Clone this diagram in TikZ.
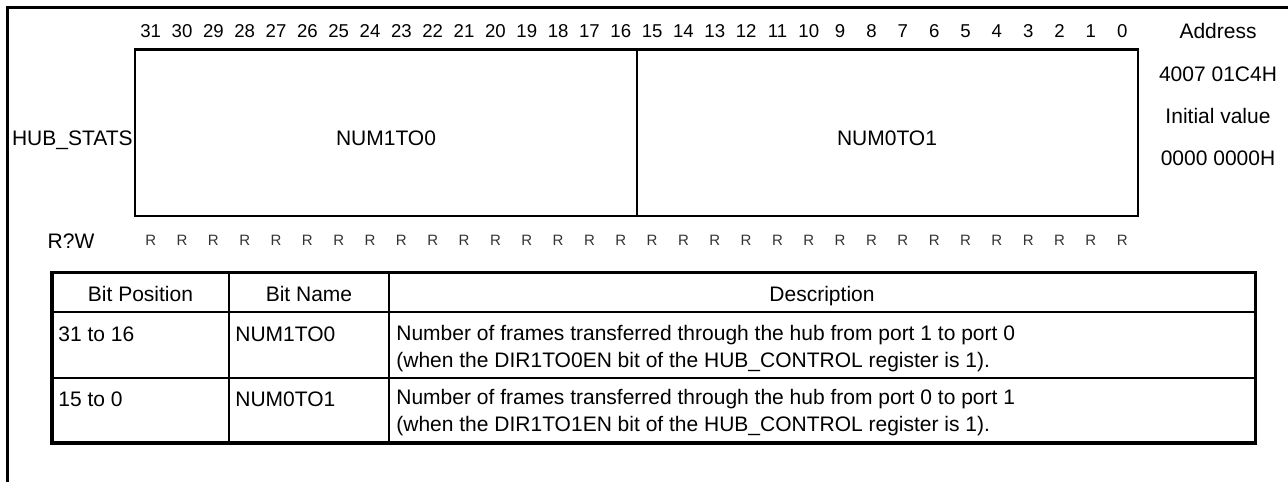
\documentclass[tikz,border=0pt]{standalone}
\usepackage{fontspec}
\setmainfont{Liberation Sans}
\begin{document}
\begin{tikzpicture}[x=0.5pt,y=-0.5pt,line cap=rect,
  every node/.style={inner sep=0pt,font=\fontsize{10.5}{13.5}\selectfont},
  bitnum/.style={anchor=base,font=\fontsize{9.3}{11}\selectfont},
  access/.style={anchor=base,font=\fontsize{7.5}{9}\selectfont,text=black!80},
  cell/.style={anchor=base west,align=left}]
  \useasboundingbox (0,0) rectangle (1288,481);
  \def\bw{31.34}
  \def\xl{135}
  % outer frame
  \draw[line width=1.1pt] (7.5,481) -- (7.5,7.5) -- (1288,7.5);
  % register layout
  \draw[line width=1.4pt] (\xl,49.5) rectangle (1138,216);
  \draw[line width=1pt] (637,49.5) -- (637,216);
  \foreach \i in {0,...,31} {
    \node[bitnum] (b\i) at ({\xl+(31.5-\i)*\bw},38) {\i};
    \node[access] (r\i) at ({\xl+(31.5-\i)*\bw},245) {R};
  }
  \node[anchor=base east] (reg) at (133,145) {HUB\_STATS};
  \node[anchor=base] (fhi) at (386,145) {NUM1TO0};
  \node[anchor=base] (flo) at (887,145) {NUM0TO1};
  \node[anchor=base] (rw) at (71,248) {R?W};
  \node[anchor=base] (addr) at (1218,39) {Address};
  \node[anchor=base] (addrv) at (1218,82) {4007 01C4H};
  \node[anchor=base] (init) at (1218,123) {Initial value};
  \node[anchor=base] (initv) at (1218,165) {0000 0000H};
  % bit table
  \draw[line width=1.1pt] (52,312) -- (1255.5,312) (52,378) -- (1255.5,378)
    (229,272.5) -- (229,443) (389,272.5) -- (389,443);
  \draw[line width=1.6pt] (52,272.5) rectangle (1255.5,443);
  \node[anchor=base] (hpos) at (140.5,301.5) {Bit Position};
  \node[anchor=base] (hname) at (309,301.5) {Bit Name};
  \node[anchor=base] (hdesc) at (822,301.5) {Description};
  \node[cell] (pos1) at (58,341) {31 to 16};
  \node[cell] (name1) at (235,341) {NUM1TO0};
  % multi-line cells sit on their last baseline
  \node[cell] (desc1) at (396,367.5) {Number of frames transferred through the hub from port 1 to port 0\\(when the DIR1TO0EN bit of the HUB\_CONTROL register is 1).};
  \node[cell] (pos2) at (58,406) {15 to 0};
  \node[cell] (name2) at (235,406) {NUM0TO1};
  \node[cell] (desc2) at (396,431.5) {Number of frames transferred through the hub from port 0 to port 1\\(when the DIR1TO1EN bit of the HUB\_CONTROL register is 1).};
\end{tikzpicture}
\end{document}
